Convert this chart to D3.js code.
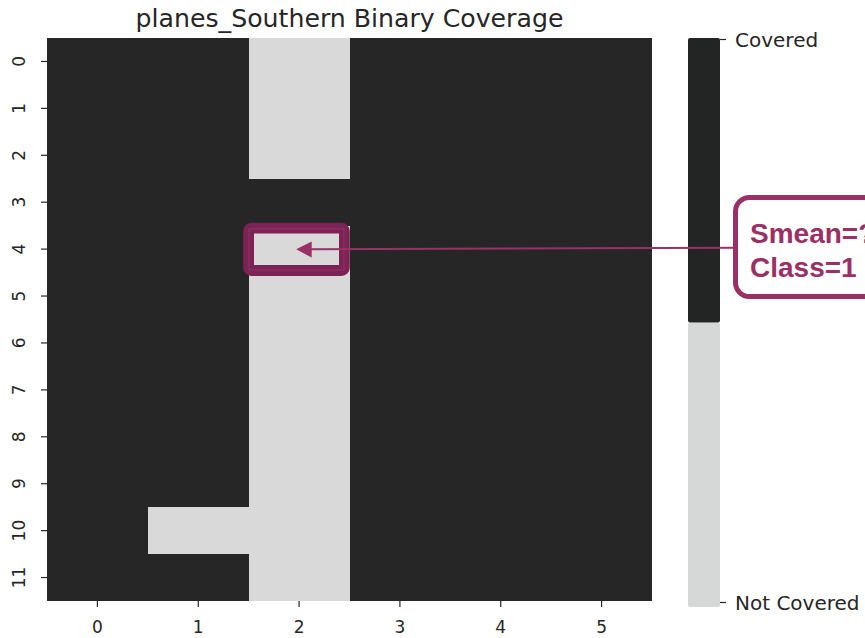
<!DOCTYPE html>
<html><head><meta charset="utf-8">
<script src="https://cdn.jsdelivr.net/npm/d3@7"></script>
<style>
html,body{margin:0;padding:0;background:#fff;}
svg{display:block;}
</style></head>
<body>
<svg id="chart" width="865" height="638"></svg>
<script>
// ---- data ----
const title = "planes_Southern Binary Coverage";
const colLabels = ["0","1","2","3","4","5"];
const rowLabels = ["0","1","2","3","4","5","6","7","8","9","10","11"];
// 1 = Covered, 0 = Not Covered
const coverage = [
  [1,1,0,1,1,1],
  [1,1,0,1,1,1],
  [1,1,0,1,1,1],
  [1,1,1,1,1,1],
  [1,1,0,1,1,1],
  [1,1,0,1,1,1],
  [1,1,0,1,1,1],
  [1,1,0,1,1,1],
  [1,1,0,1,1,1],
  [1,1,0,1,1,1],
  [1,0,0,1,1,1],
  [1,1,0,1,1,1]
];
const classValues = [0, 1];
const classNames = ["Not Covered", "Covered"];
const highlightCell = {row: "4", col: "2"};
const annotationLines = ["Smean=?", "Class=1"];

// ---- layout ----
const svg = d3.select("#chart");
const pLeft = 47, pRight = 652, pTop = 38, pBottom = 601;
const dark = "#262626", light = "#d9d9d9";
const accent = "#9b3066", accentDark = "#7b2354";
const textCol = "#262626";

const x = d3.scaleBand().domain(colLabels).range([pLeft, pRight]);
const y = d3.scaleBand().domain(rowLabels).range([pTop, pBottom]);
const color = d3.scaleOrdinal().domain(classValues).range([light, dark]);

const cells = [];
coverage.forEach((row, ri) => row.forEach((v, ci) => cells.push({r: rowLabels[ri], c: colLabels[ci], v})));

svg.append("g").attr("shape-rendering", "crispEdges").selectAll("rect").data(cells).join("rect")
  .attr("x", d => Math.round(x(d.c))).attr("y", d => Math.round(y(d.r)))
  .attr("width", d => Math.round(x(d.c) + x.bandwidth()) - Math.round(x(d.c)))
  .attr("height", d => Math.round(y(d.r) + y.bandwidth()) - Math.round(y(d.r)))
  .attr("fill", d => color(d.v));

// axes
const xAxis = svg.append("g").attr("transform", `translate(0,${pBottom})`)
  .call(d3.axisBottom(x).tickSize(6).tickPadding(4));
xAxis.select(".domain").remove();
xAxis.selectAll("line").attr("stroke", textCol).attr("stroke-width", 1.2);
xAxis.selectAll("text").attr("font-family", "DejaVu Sans").attr("font-size", 17).attr("fill", textCol)
  .attr("dy", null).attr("y", 32);

const yAxis = svg.append("g").attr("transform", `translate(${pLeft},0)`)
  .call(d3.axisLeft(y).tickSize(6));
yAxis.select(".domain").remove();
yAxis.selectAll("line").attr("stroke", textCol).attr("stroke-width", 1.2);
yAxis.selectAll("text").attr("font-family", "DejaVu Sans").attr("font-size", 17).attr("fill", textCol)
  .attr("x", null).attr("dy", null).attr("text-anchor", "middle")
  .attr("transform", `translate(${25 - pLeft},0) rotate(-90)`);

// title
svg.append("text").attr("x", (pLeft + pRight) / 2).attr("y", 27)
  .attr("text-anchor", "middle").attr("font-family", "DejaVu Sans").attr("font-size", 25.2)
  .attr("fill", textCol).text(title);

// colorbar
const cbX = 688, cbW = 32, cbTop = 38, cbBottom = 607;
const cb = d3.scaleBand().domain(classValues.slice().reverse()).range([cbTop, cbBottom]);
svg.append("g").selectAll("rect").data(classValues).join("rect")
  .attr("x", cbX).attr("y", d => cb(d)).attr("width", cbW).attr("height", cb.bandwidth())
  .attr("rx", 2).attr("fill", d => d === 0 ? "#d6d8d7" : "#232524");
const cbTick = d3.scaleLinear().domain([0, 1]).range([602, 39]);
const cbAxis = svg.append("g").attr("transform", `translate(${cbX + cbW},0)`)
  .call(d3.axisRight(cbTick).tickValues(classValues).tickFormat(d => classNames[d]).tickSize(6).tickPadding(9));
cbAxis.select(".domain").remove();
cbAxis.selectAll("line").attr("stroke", textCol).attr("stroke-width", 1.2);
cbAxis.selectAll("text").attr("font-family", "DejaVu Sans").attr("font-size", 20).attr("fill", textCol)
  .attr("dy", "0.36em");

// highlight
const hx = x(highlightCell.col), hy = y(highlightCell.row);
const hg = svg.append("g");
hg.append("rect").attr("x", hx - 0.1).attr("y", hy + 2.5)
  .attr("width", x.bandwidth() - 5).attr("height", y.bandwidth() - 4.6)
  .attr("rx", 3).attr("fill", "none").attr("stroke", accentDark).attr("stroke-width", 10.8);
hg.append("rect").attr("x", hx + 0.4).attr("y", hy + 3)
  .attr("width", x.bandwidth() - 6).attr("height", y.bandwidth() - 5.6)
  .attr("fill", "none").attr("stroke", accent).attr("stroke-width", 1.2).attr("opacity", 0.8);

// arrow
const tipX = hx + 47.5, tipY = hy + 23.7;
svg.append("line").attr("x1", 735).attr("y1", 247.7).attr("x2", tipX + 14).attr("y2", tipY)
  .attr("stroke", accent).attr("stroke-width", 2);
svg.append("path")
  .attr("d", `M${tipX},${tipY} L${tipX + 15.5},${tipY - 7.8} L${tipX + 15.5},${tipY + 8.2} Z`)
  .attr("fill", accent);

// annotation box (runs off the right edge, as in the reference)
svg.append("rect").attr("x", 735.5).attr("y", 197.5).attr("width", 200).attr("height", 99)
  .attr("rx", 14).attr("fill", "#fff").attr("stroke", accent).attr("stroke-width", 5);
svg.append("g").selectAll("text").data(annotationLines).join("text")
  .attr("x", 750).attr("y", (d, i) => 243 + i * 34)
  .attr("font-family", "Liberation Sans, Arial, sans-serif").attr("font-weight", "bold")
  .attr("font-size", 28).attr("fill", accent).text(d => d);
</script>
</body></html>
